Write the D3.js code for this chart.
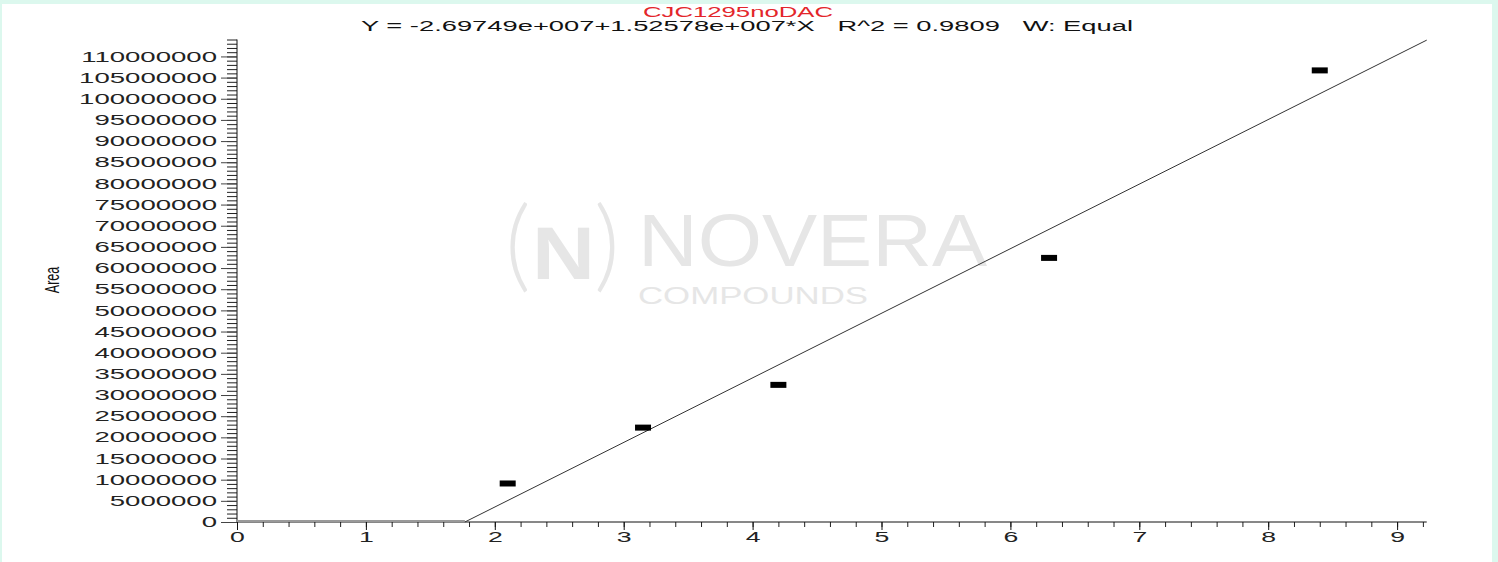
<!DOCTYPE html>
<html>
<head>
<meta charset="utf-8">
<script src="https://cdn.jsdelivr.net/npm/d3@7/dist/d3.min.js"></script>
<style>
  html, body { margin: 0; padding: 0; background: #dcf8ee; }
  svg { display: block; }
  text { font-family: "Liberation Sans", Arial, sans-serif; }
</style>
</head>
<body>
<svg id="chart" width="1498" height="562"></svg>
<script>
// ---- data ----
const concentrations = [2.1, 3.15, 4.2, 6.3, 8.4];
const areas = [9.1e6, 22.3e6, 32.4e6, 62.4e6, 106.7e6];
const fitIntercept = -2.69749e7;
const fitSlope = 1.52578e7;
const sampleName = "CJC1295noDAC";
const equationText = "Y = -2.69749e+007+1.52578e+007*X   R^2 = 0.9809   W: Equal";
const yAxisTitle = "Area";
const xTickValues = [0, 1, 2, 3, 4, 5, 6, 7, 8, 9];
const yTickValues = [0, 5e6, 10e6, 15e6, 20e6, 25e6, 30e6, 35e6, 40e6, 45e6, 50e6, 55e6,
  60e6, 65e6, 70e6, 75e6, 80e6, 85e6, 90e6, 95e6, 100e6, 105e6, 110e6];
const watermarkMain = "NOVERA";
const watermarkSub = "COMPOUNDS";

// ---- layout ----
const SX = 1.9; // horizontal stretch of the original picture's text
const svg = d3.select("#chart");
svg.append("rect").attr("x", 2).attr("y", 4).attr("width", 1490).attr("height", 558).attr("fill", "#fff");

const x = d3.scaleLinear().domain([0, 9.23]).range([237, 237 + 9.23 * 128.9]);
const y = d3.scaleLinear().domain([0, 114e6]).range([522, 39.5]);

// watermark
const wmColor = "#e6e6e6";
const logo = svg.append("text").attr("fill", wmColor).attr("y", 279);
logo.append("tspan").attr("x", 505).attr("font-size", 100)
  .attr("font-family", "Lato, 'Open Sans', sans-serif").attr("font-weight", 300).text("(");
logo.append("tspan").attr("x", 532).attr("font-size", 74)
  .attr("font-family", "'Liberation Sans', Arial, sans-serif").attr("font-weight", 700)
  .attr("textLength", 63).attr("lengthAdjust", "spacingAndGlyphs").text("N");
logo.append("tspan").attr("x", 594).attr("font-size", 100)
  .attr("font-family", "Lato, 'Open Sans', sans-serif").attr("font-weight", 300).text(")");

const brand = svg.append("text").attr("fill", wmColor)
  .attr("font-family", "Lato, 'Open Sans', sans-serif").attr("font-weight", 300);
brand.append("tspan").attr("x", 638).attr("y", 266).attr("font-size", 74)
  .attr("textLength", 349).attr("lengthAdjust", "spacingAndGlyphs").text(watermarkMain);
brand.append("tspan").attr("x", 638).attr("y", 304).attr("font-size", 24)
  .attr("textLength", 230).attr("lengthAdjust", "spacingAndGlyphs").text(watermarkSub);

// titles
svg.append("text").attr("x", 738).attr("y", 17).attr("text-anchor", "middle")
  .attr("font-size", 14).attr("fill", "#e3262b")
  .attr("textLength", 190).attr("lengthAdjust", "spacingAndGlyphs").text(sampleName);
svg.append("text").attr("x", 747).attr("y", 31).attr("text-anchor", "middle")
  .attr("font-size", 14).attr("fill", "#111")
  .attr("textLength", 772).attr("lengthAdjust", "spacingAndGlyphs")
  .style("white-space", "pre").text(equationText);

// y-axis title
svg.append("text").attr("font-size", 12.5).attr("fill", "#111")
  .attr("text-anchor", "middle")
  .attr("transform", "translate(53,280) scale(1.55,1) rotate(-90) translate(0,4)")
  .text(yAxisTitle);

function stretch(sel) {
  sel.each(function () {
    const w = this.getComputedTextLength();
    d3.select(this).attr("textLength", w * SX).attr("lengthAdjust", "spacingAndGlyphs");
  });
}

// minor ticks
const yMinor = d3.range(0, 114e6 + 1, 1e6);
const xMinor = d3.range(0, 9.21, 0.2);
const yMinorAxis = svg.append("g").attr("transform", "translate(237,0)")
  .call(d3.axisLeft(y).tickValues(yMinor).tickSize(10).tickFormat(""));
yMinorAxis.select(".domain").remove();
yMinorAxis.selectAll("line").attr("stroke", "#222");
const xMinorAxis = svg.append("g").attr("transform", "translate(0,522)")
  .call(d3.axisBottom(x).tickValues(xMinor).tickSize(5).tickFormat(""));
xMinorAxis.select(".domain").remove();
xMinorAxis.selectAll("line").attr("stroke", "#222");

// major axes
const yAxis = svg.append("g").attr("transform", "translate(237,0)")
  .call(d3.axisLeft(y).tickValues(yTickValues).tickSize(16).tickPadding(4)
    .tickFormat(d => String(Math.round(d))));
yAxis.select(".domain").attr("d", `M0,${y(114e6)}V${y(0)}`).attr("stroke", "#111");
yAxis.selectAll("line").attr("stroke", "#444");
yAxis.selectAll("text").attr("font-size", 14.5).attr("fill", "#222")
  .attr("font-family", "'Liberation Sans', Arial, sans-serif").call(stretch);

const xAxis = svg.append("g").attr("transform", "translate(0,522)")
  .call(d3.axisBottom(x).tickValues(xTickValues).tickSize(8).tickPadding(2)
    .tickFormat(d3.format("d")));
xAxis.select(".domain").attr("d", `M${x(0)},0H${x(9.23)}`).attr("stroke", "#111");
xAxis.selectAll("line").attr("stroke", "#111");
xAxis.selectAll("text").attr("font-size", 14).attr("fill", "#222")
  .attr("font-family", "'Liberation Sans', Arial, sans-serif").call(stretch);

// fit line (clamped at zero)
const xZero = -fitIntercept / fitSlope;
const xEnd = 9.23;
svg.append("line")
  .attr("x1", x(0)).attr("x2", x(xZero))
  .attr("y1", y(0) - 1).attr("y2", y(0) - 1)
  .attr("stroke", "#999").attr("stroke-width", 2);
svg.append("line")
  .attr("x1", x(xZero)).attr("y1", y(0))
  .attr("x2", x(xEnd)).attr("y2", y(fitIntercept + fitSlope * xEnd))
  .attr("stroke", "#333").attr("stroke-width", 1);

// data markers
svg.append("g").selectAll("rect").data(concentrations).join("rect")
  .attr("x", (d) => x(d) - 8)
  .attr("y", (d, i) => y(areas[i]) - 3)
  .attr("width", 16).attr("height", 6)
  .attr("fill", "#000");
</script>
</body>
</html>
